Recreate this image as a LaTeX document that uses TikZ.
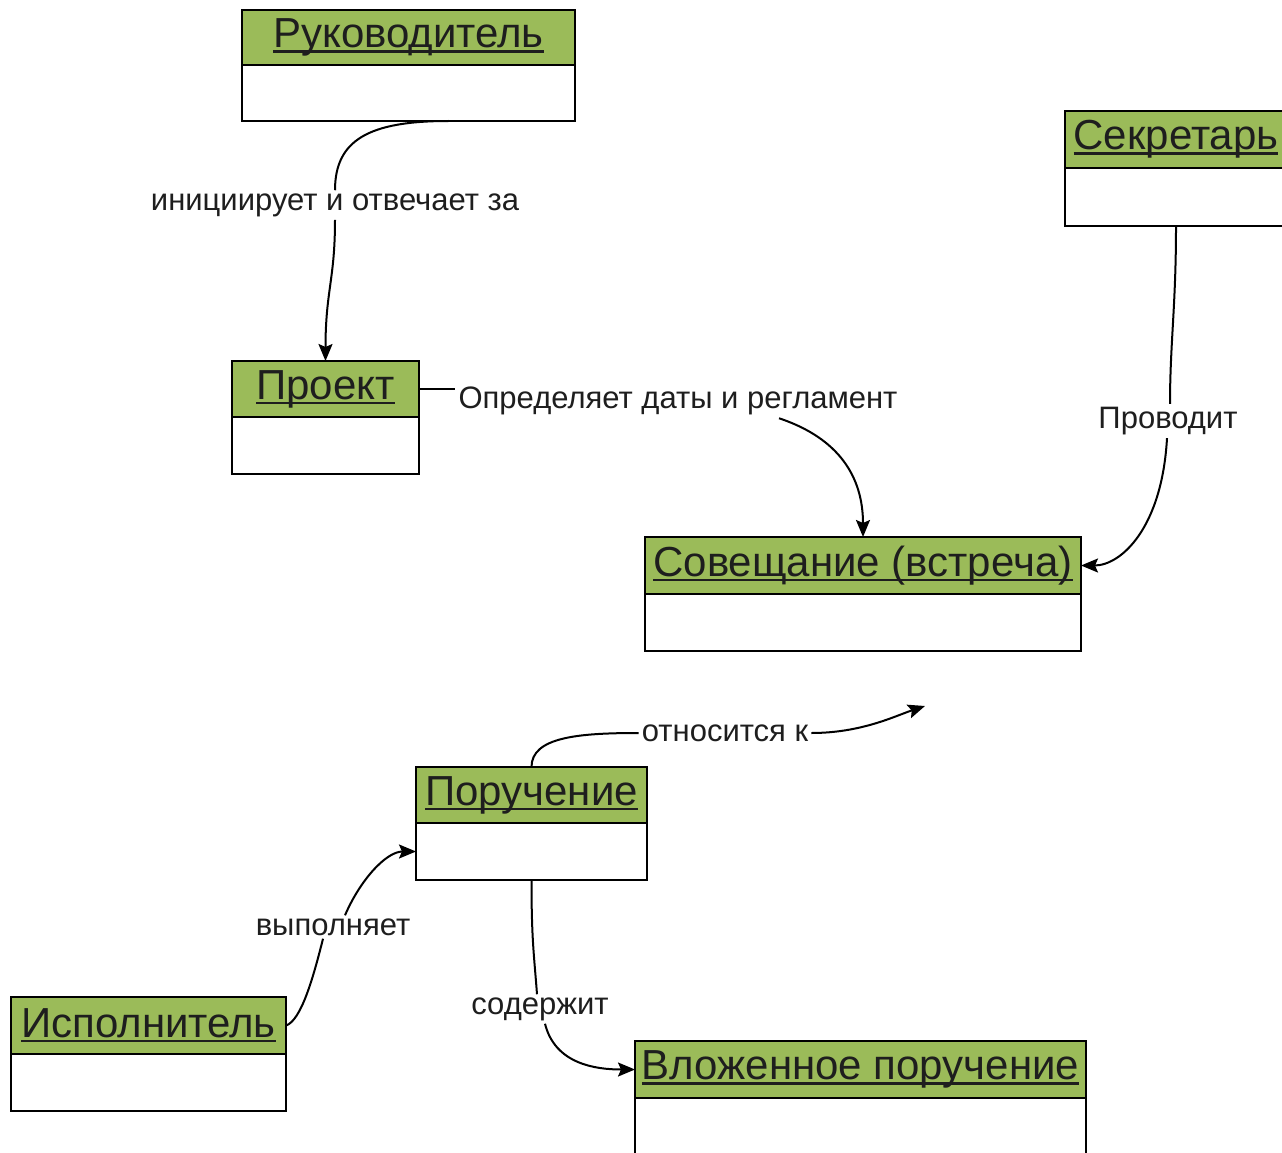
\documentclass[tikz,border=0pt]{standalone}
\usepackage{fontspec}
\setmainfont{Liberation Sans}
\usetikzlibrary{arrows.meta,calc}
\definecolor{hdrgreen}{HTML}{9BBB59}
\definecolor{txtdark}{HTML}{1E1E1E}
\newcommand\myul[1]{\setbox0\hbox{#1}\rlap{\rule[-5pt]{\wd0}{2.5pt}}\box0}
\begin{document}
\begin{tikzpicture}[x=1pt,y=-1pt,
  hdr/.style={draw=black, line width=2pt, fill=hdrgreen, anchor=north west, inner sep=0pt, outer sep=0pt,
    font=\fontsize{42}{44}\selectfont, text=txtdark},
  bdy/.style={draw=black, line width=2pt, fill=white, anchor=north, inner sep=0pt, outer sep=0pt},
  lbl/.style={fill=white, inner sep=3pt, yshift=-4pt, font=\fontsize{31}{34}\selectfont, text=txtdark},
  conn/.style={draw=black, line width=2pt},
  arr/.style={conn, -{Stealth[length=17pt,width=14pt,inset=3pt]}}
]
\useasboundingbox (0,0) rectangle (1282,1153);

% Руководитель
\node[hdr, minimum width=333pt, minimum height=55pt] (rukH) at (242,10) {\myul{Руководитель}};
\node[bdy, minimum width=333pt, minimum height=56pt] (rukB) at (rukH.south) {};
% Секретарь
\node[hdr, minimum width=222pt, minimum height=57pt] (sekH) at (1065,111) {\myul{Секретарь}};
\node[bdy, minimum width=222pt, minimum height=58pt] (sekB) at (sekH.south) {};
% Проект
\node[hdr, minimum width=187pt, minimum height=56pt] (prjH) at (232,361) {\myul{Проект}};
\node[bdy, minimum width=187pt, minimum height=57pt] (prjB) at (prjH.south) {};
% Совещание
\node[hdr, minimum width=436pt, minimum height=57pt] (sovH) at (645,537) {\myul{Совещание (встреча)}};
\node[bdy, minimum width=436pt, minimum height=57pt] (sovB) at (sovH.south) {};
% Поручение
\node[hdr, minimum width=231pt, minimum height=56pt] (porH) at (416,767) {\myul{Поручение}};
\node[bdy, minimum width=231pt, minimum height=57pt] (porB) at (porH.south) {};
% Исполнитель
\node[hdr, minimum width=275pt, minimum height=57pt] (ispH) at (11,997) {\myul{Исполнитель}};
\node[bdy, minimum width=275pt, minimum height=57pt] (ispB) at (ispH.south) {};
% Вложенное поручение
\node[hdr, minimum width=451pt, minimum height=57pt] (vloH) at (635,1041) {\myul{Вложенное поручение}};
\node[bdy, minimum width=451pt, minimum height=62pt] (vloB) at (vloH.south) {};

% labels
\node[lbl] (l1) at (335,201) {инициирует и отвечает за};
\node[lbl] (l2) at (678,397) {Определяет даты и регламент};
\node[lbl] (l3) at (1168,417) {Проводит};
\node[lbl] (l4) at (725,729) {относится к};
\node[lbl] (l5) at (333,923) {выполняет};
\node[lbl] (l6) at (540,1005) {содержит};
\coordinate (free) at (925,706);

% connectors
\draw[conn] ([xshift=40pt]rukB.south) .. controls +(-80,0) and +(0,-50) .. (l1.north);
\draw[arr] (l1.south) .. controls +(0,60) and +(0,-70) .. (prjH.north);

\draw[conn] (prjH.east) -- (prjH.east -| l2.west);
\draw[arr] ([xshift=101pt]l2.south) .. controls +(60,20) and +(0,-60) .. (sovH.north);

\draw[conn] (sekB.south) .. controls +(0,80) and +(0,-60) .. ([xshift=2pt]l3.north);
\draw[arr] ([xshift=-1pt]l3.south) .. controls +(-5,90) and +(40,0) .. (sovH.east);

\draw[conn] (porH.north) .. controls +(0,-30) and +(-60,0) .. (l4.west);
\draw[arr] (l4.east) .. controls +(50,0) and +(-30,10) .. (free);

\draw[conn] (ispH.east) .. controls +(15,-5) and +(-10,40) .. ([xshift=-10pt]l5.south);
\draw[arr] ([xshift=12pt]l5.north) .. controls +(15,-35) and +(-30,0) .. (porB.west);

\draw[conn] (porB.south) .. controls +(0,60) and +(-3,-40) .. ([xshift=-3pt]l6.north);
\draw[arr] ([xshift=5pt]l6.south) .. controls +(10,40) and +(-40,0) .. (vloH.west);
\end{tikzpicture}
\end{document}
